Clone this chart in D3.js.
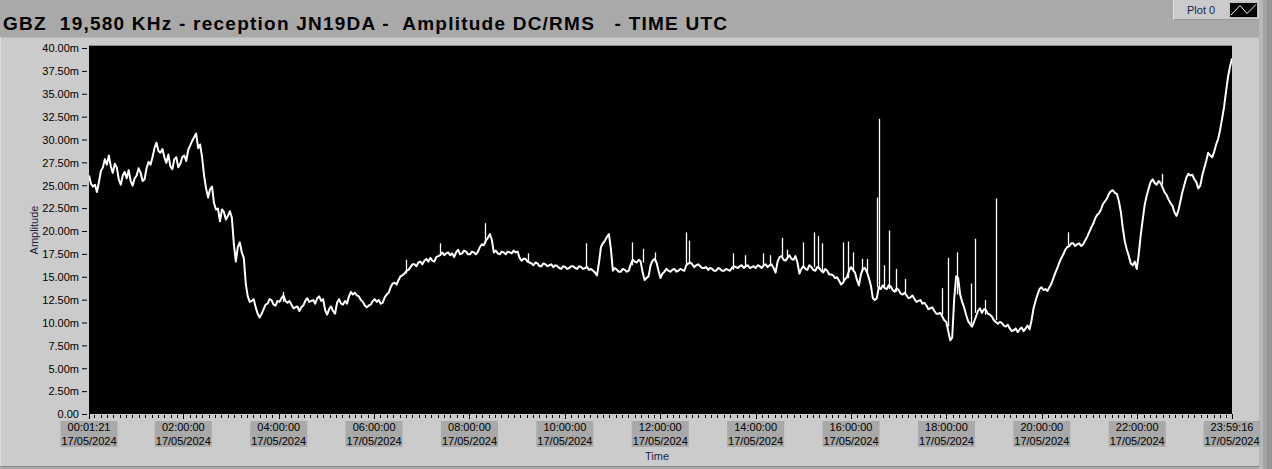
<!DOCTYPE html>
<html><head><meta charset="utf-8">
<script src="https://cdn.jsdelivr.net/npm/d3@7"></script>
<style>
html,body{margin:0;padding:0;background:#a8a8a8;overflow:hidden;}
svg{display:block;}
text{font-family:"Liberation Sans",Arial,sans-serif;}
</style>
</head><body>
<svg id="c" width="1272" height="469"></svg>
<script>
// ---------- DATA ----------
const titleText = "GBZ  19,580 KHz - reception JN19DA -  Amplitude DC/RMS   - TIME UTC";
const legendLabel = "Plot 0";
const yAxisTitle = "Amplitude";
const xAxisTitle = "Time";
const dateLabel = "17/05/2024";
const startTime = "00:01:21";
const endTime = "23:59:16";
const xTickTimes = ["00:01:21","02:00:00","04:00:00","06:00:00","08:00:00","10:00:00","12:00:00","14:00:00","16:00:00","18:00:00","20:00:00","22:00:00","23:59:16"];
const yTickValues = [0,2.5,5,7.5,10,12.5,15,17.5,20,22.5,25,27.5,30,32.5,35,37.5,40];
const minorTickStepMin = 8;

// amplitude ("m" units), evenly sampled from startTime to endTime
const amplitude = [
26.0,24.8,24.2,26.5,27.8,28.2,26.3,26.9,25.0,26.4,
26.6,24.9,26.0,26.3,25.6,27.5,28.0,29.6,28.5,28.0,
28.3,26.7,28.0,27.3,28.2,28.8,29.8,30.6,29.4,26.0,
23.6,24.8,22.3,21.0,22.0,21.6,21.4,16.6,18.7,17.0,
12.8,12.3,11.6,10.5,11.4,12.0,12.4,11.8,12.2,12.9,
12.1,11.9,11.6,11.2,11.8,12.6,12.3,12.0,12.8,12.5,
10.8,11.7,10.9,12.5,11.9,12.0,13.3,13.2,12.8,12.2,
11.6,11.9,12.5,12.4,12.1,13.0,13.8,14.3,14.6,15.1,
15.6,16.0,16.3,16.5,16.3,16.9,17.0,16.6,17.2,17.6,
17.5,17.3,17.1,17.9,17.5,17.7,17.4,17.6,17.7,18.5,
18.9,19.6,17.6,17.5,17.7,17.4,17.6,17.8,17.7,16.7,
16.9,16.5,16.2,16.4,16.1,16.3,16.2,16.0,16.1,15.8,
16.0,15.9,16.1,15.8,16.0,15.9,15.7,15.6,15.1,18.2,
18.9,19.6,15.6,15.7,15.5,15.7,15.6,16.8,16.5,16.6,
14.6,15.0,16.7,16.5,14.8,15.5,15.6,15.7,15.5,15.8,
15.6,16.4,16.3,16.2,16.1,15.9,15.7,15.8,15.6,15.8,
15.6,15.7,15.9,16.0,16.1,15.9,16.2,16.0,15.9,16.1,
16.2,16.0,16.3,15.4,17.1,16.8,17.0,16.9,17.2,15.3,
16.1,15.7,16.0,15.6,15.9,15.4,15.6,15.2,14.8,14.5,
14.3,14.9,16.0,15.4,14.0,15.8,15.5,14.0,12.4,13.8,
14.0,13.6,13.9,13.3,13.5,13.0,12.9,12.7,12.5,12.3,
12.0,11.8,11.5,11.2,10.9,10.6,10.0,8.0,12.5,14.8,
12.2,10.8,9.8,10.0,11.2,11.0,11.3,10.8,10.2,9.8,
9.9,9.5,9.3,9.1,8.9,9.4,9.3,9.2,11.5,13.0,
13.8,13.6,13.8,14.8,15.9,17.0,17.9,18.3,18.6,18.5,
18.3,18.9,19.8,20.7,21.7,22.3,23.2,24.0,24.4,24.0,
22.0,18.8,17.2,16.2,15.8,19.5,22.8,24.6,25.6,25.0,
25.2,24.2,23.4,22.7,21.6,23.2,25.0,26.2,26.1,25.3,
24.9,26.8,28.5,28.0,29.4,31.0,33.5,36.8,38.8
];
// readings half-way between consecutive samples above
const amplitudeMid = [
25.1,25.0,25.3,26.9,27.2,27.0,27.3,25.6,26.0,25.7,
25.4,25.7,26.8,25.4,26.8,27.2,29.0,28.7,28.9,27.4,
27.0,27.8,26.9,28.0,27.6,29.3,30.2,29.0,28.0,24.6,
24.5,23.0,22.4,22.3,21.2,22.1,18.5,18.2,17.6,14.2,
12.2,12.5,10.9,10.9,11.9,12.5,11.9,12.3,12.6,12.3,
12.3,11.5,11.7,11.6,12.3,12.2,12.4,12.6,12.3,11.3,
11.4,11.2,12.1,12.0,12.3,12.8,13.0,12.9,12.4,11.8,
11.8,12.3,12.2,12.0,12.7,13.2,14.2,14.1,15.0,15.3,
15.7,16.3,16.1,16.6,16.7,16.6,16.7,17.1,17.3,17.3,
17.6,17.5,17.6,17.4,17.8,17.4,17.7,17.4,18.2,18.4,
19.2,19.0,17.8,17.4,17.6,17.7,17.5,17.6,17.0,16.9,
16.6,16.4,16.5,16.1,16.4,16.1,16.3,16.2,15.9,16.1,
15.8,16.1,15.9,16.1,15.8,16.0,15.8,15.4,16.5,18.6,
19.3,18.0,15.9,15.5,15.8,15.5,16.3,16.6,16.8,15.4,
14.8,16.2,16.9,15.6,15.3,15.8,15.5,15.8,15.6,15.7,
16.2,16.5,16.0,16.3,15.9,16.0,15.9,15.6,15.9,15.6,
15.8,15.6,16.1,15.9,16.2,16.1,15.9,16.1,16.2,15.9,
16.3,16.2,15.9,16.6,17.2,16.7,17.3,16.8,16.5,15.8,
15.8,16.2,15.7,16.0,15.6,15.8,15.2,15.1,14.9,14.1,
14.7,15.6,15.7,14.6,15.2,15.9,14.8,12.6,12.6,13.6,
13.7,14.0,13.5,13.7,13.1,13.2,12.6,12.9,12.2,12.4,
12.1,11.4,11.6,10.9,11.0,10.2,9.0,8.3,15.0,13.0,
11.6,10.1,9.5,10.6,11.5,11.4,10.9,10.6,10.0,10.0,
9.6,9.7,9.0,9.3,9.2,9.0,9.6,10.2,12.3,13.6,
13.5,13.4,14.2,15.4,16.5,17.4,18.2,18.6,18.3,18.6,
18.5,19.3,20.3,21.3,21.9,22.9,23.5,24.3,24.1,23.2,
20.2,17.9,16.4,16.6,17.4,21.2,23.8,25.3,25.2,25.4,
24.7,23.9,23.0,22.0,22.2,24.2,25.8,26.0,25.6,24.6,
26.0,27.6,28.2,28.6,30.0,32.2,35.2,37.9
];

// short impulsive spikes (time, level before spike, spike top)
const spikeTimes = ["04:05","06:40","07:23","08:19","09:13","10:26","11:24","11:38","11:53","12:33","12:36","13:31","13:46","14:09","14:18","14:33","14:39","14:59","15:13","15:18","15:23","15:50","15:56","16:02","16:14","16:20","16:33","16:35","16:41","16:48","16:56","17:08","17:54","18:02","18:13","18:31","18:36","18:48","19:03","20:33","22:31"];
const spikeBase = [12.2,15.3,17.4,18.6,16.5,16.0,16.2,16.5,16.5,16.3,16.3,15.7,16.0,16.0,16.1,17.0,17.0,16.0,16.0,15.8,15.6,14.5,14.8,15.5,15.5,15.5,13.8,13.8,13.8,13.6,13.3,13.0,10.8,9.5,13.0,9.8,11.0,10.8,10.2,18.4,25.0];
const spikePeak = [13.3,16.8,18.6,20.8,17.5,18.6,18.7,18.0,17.6,19.8,18.9,17.5,17.3,17.5,17.3,19.2,17.9,18.7,19.8,19.4,18.6,18.7,18.8,17.6,16.9,16.9,23.6,32.2,16.2,20.0,15.8,14.7,13.7,17.0,17.6,14.2,19.1,12.4,23.5,19.8,26.2];

// ---------- DRAW ----------
const svg = d3.select("#c");
const W = 1272, H = 469;
const plot = {x0: 89, x1: 1232, yTop: 47.5, yBot: 413.5};

const pHMS = d3.timeParse("%H:%M:%S");
const pHM = d3.timeParse("%H:%M");
const t0 = pHMS(startTime), t1 = pHMS(endTime);

const x = d3.scaleTime().domain([t0, t1]).range([plot.x0, plot.x1]);
const y = d3.scaleLinear().domain([0, 40]).range([plot.yBot, plot.yTop]);

// background panels
svg.append("rect").attr("x",0).attr("y",0).attr("width",W).attr("height",37).attr("fill","#a9a9a9");
svg.append("rect").attr("x",0).attr("y",37).attr("width",1259).attr("height",430).attr("fill","#cbcbcb");
svg.append("line").attr("x1",0).attr("x2",1259).attr("y1",37.5).attr("y2",37.5).attr("stroke","#b9b9b9");
svg.append("line").attr("x1",0.5).attr("x2",0.5).attr("y1",37).attr("y2",467).attr("stroke","#dcdcdc");
svg.append("rect").attr("x",0).attr("y",466).attr("width",W).attr("height",1).attr("fill","#8a8a8a");
svg.append("rect").attr("x",0).attr("y",467).attr("width",W).attr("height",2).attr("fill","#a9a9a9");
// right edge stripes
svg.append("rect").attr("x",1259).attr("y",0).attr("width",4).attr("height",H).attr("fill","#b8b8b8");
svg.append("rect").attr("x",1263).attr("y",0).attr("width",4).attr("height",H).attr("fill","#a3a3a3");
svg.append("rect").attr("x",1267).attr("y",0).attr("width",5).attr("height",H).attr("fill","#959595");

// legend
const lg = svg.append("g");
lg.append("rect").attr("x",1173).attr("y",0).attr("width",86).attr("height",20).attr("fill","#cbcbcb");
lg.append("line").attr("x1",1173).attr("x2",1259).attr("y1",19.5).attr("y2",19.5).attr("stroke","#999");
lg.append("line").attr("x1",1173.5).attr("x2",1173.5).attr("y1",0).attr("y2",20).attr("stroke","#e0e0e0");
lg.append("text").attr("x",1187).attr("y",14).attr("font-size",11).attr("fill","#1e1e4a").text(legendLabel);
lg.append("rect").attr("x",1229.5).attr("y",2.5).attr("width",28).attr("height",15).attr("fill","#000").attr("stroke","#bdbdbd");
lg.append("polyline").attr("points","1231,15 1240,5.5 1247,13.5 1256,4.5").attr("fill","none").attr("stroke","#fff").attr("stroke-width",1);

// title
svg.append("text").attr("x",3).attr("y",30).attr("font-size",19).attr("font-weight","bold")
  .attr("fill","#000").style("white-space","pre").attr("xml:space","preserve")
  .attr("textLength",724).attr("lengthAdjust","spacing").text(titleText);

// plot area
svg.append("rect").attr("x",plot.x0).attr("y",46).attr("width",plot.x1-plot.x0).attr("height",368).attr("fill","#000");
svg.append("line").attr("x1",plot.x0).attr("x2",plot.x1).attr("y1",45.5).attr("y2",45.5).attr("stroke","#8c8c8c");

svg.append("clipPath").attr("id","clip").append("rect")
  .attr("x",plot.x0).attr("y",46).attr("width",plot.x1-plot.x0).attr("height",368);

const idx = d3.scaleLinear().domain([0, amplitude.length-1]).range([t0.getTime(), t1.getTime()]);
const series = [];
amplitude.forEach((v,i)=>{
  series.push({t:new Date(idx(i)), v});
  if (i < amplitudeMid.length) series.push({t:new Date(idx(i+0.5)), v:amplitudeMid[i]});
});

const g = svg.append("g").attr("clip-path","url(#clip)");
g.append("path").datum(series)
  .attr("d", d3.line().x(d=>x(d.t)).y(d=>y(d.v)))
  .attr("fill","none").attr("stroke","#fff").attr("stroke-width",2).attr("stroke-linejoin","round");

g.selectAll("line.spk").data(spikeTimes.map((s,i)=>({t:pHM(s), b:spikeBase[i], p:spikePeak[i]})))
  .join("line").attr("class","spk")
  .attr("x1",d=>Math.round(x(d.t))+0.5).attr("x2",d=>Math.round(x(d.t))+0.5)
  .attr("y1",d=>y(d.b)).attr("y2",d=>y(d.p))
  .attr("stroke","#fff").attr("stroke-width",1.3);

// y axis
const yAxis = d3.axisLeft(y).tickValues(yTickValues).tickSize(5).tickPadding(3)
  .tickFormat(d => d === 0 ? "0.00" : d3.format(".2f")(d) + "m");
const ya = svg.append("g").attr("transform","translate(87,0.5)").call(yAxis);
ya.select(".domain").remove();
ya.selectAll("line").attr("stroke","#000");
ya.selectAll("text").attr("font-size",11).attr("fill","#000").attr("font-family","Liberation Sans, Arial, sans-serif").attr("dy","0.35em");

// x axis: minor ticks
const midnight = pHMS("00:00:00");
const minorTicks = d3.range(0, 24*60+1, minorTickStepMin).map(m => d3.timeMinute.offset(midnight, m))
  .filter(d => d >= t0 && d <= t1);
svg.append("g").selectAll("line").data(minorTicks).join("line")
  .attr("x1",d=>Math.round(x(d))+0.5).attr("x2",d=>Math.round(x(d))+0.5)
  .attr("y1",415).attr("y2",418).attr("stroke","#000");

// major ticks + labels
const majors = xTickTimes.map(s => pHMS(s));
const xa = svg.append("g");
xa.selectAll("line").data(majors).join("line")
  .attr("x1",d=>Math.round(x(d))+0.5).attr("x2",d=>Math.round(x(d))+0.5)
  .attr("y1",414).attr("y2",419).attr("stroke","#000");
const lab = xa.selectAll("g.lab").data(xTickTimes).join("g").attr("class","lab")
  .attr("transform", s => `translate(${x(pHMS(s))},0)`);
lab.append("rect").attr("x",-28.5).attr("y",421).attr("width",57).attr("height",26).attr("fill","#a9a9a9");
lab.append("text").attr("y",431).attr("text-anchor","middle").attr("font-size",11).attr("fill","#000").text(s=>s);
lab.append("text").attr("y",445).attr("text-anchor","middle").attr("font-size",11).attr("fill","#000").text(dateLabel);

// axis titles
svg.append("text").attr("transform","translate(38,230) rotate(-90)").attr("text-anchor","middle")
  .attr("font-size",11).attr("fill","#1e1e4a").text(yAxisTitle);
svg.append("text").attr("x",657).attr("y",460).attr("text-anchor","middle")
  .attr("font-size",11).attr("fill","#1e1e4a").text(xAxisTitle);
</script>
</body></html>
